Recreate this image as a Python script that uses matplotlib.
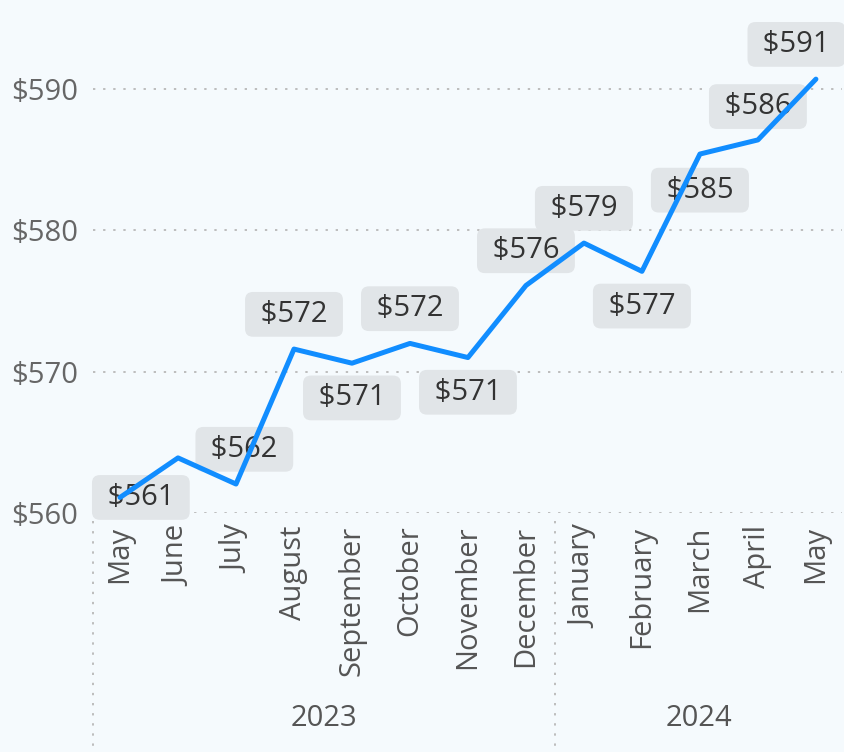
import matplotlib
matplotlib.use('Agg')
import matplotlib.pyplot as plt
import matplotlib.transforms as mtransforms

plt.rcParams['font.family'] = ['Open Sans', 'DejaVu Sans']

# Monthly values
months = ['May', 'June', 'July', 'August', 'September', 'October', 'November',
          'December', 'January', 'February', 'March', 'April', 'May']
years = ['2023', '2024']
year_of_month = [0, 0, 0, 0, 0, 0, 0, 0, 1, 1, 1, 1, 1]
values = [561.1, 563.9, 562.05, 571.6, 570.6, 572.0, 571.0, 576.1, 579.1, 577.1, 585.4, 586.4, 590.7]
show_label = [True, False, True, True, True, True, True, True, True, True, True, True, True]
y_ticks = [560, 570, 580, 590]

# label placement (offset in points from the point)
label_offsets = [(15, 0), (0, 25), (6, 25), (0, 25), (0, -25), (0, 25), (0, -25),
                 (0, 25), (0, 25), (0, -25), (0, -26), (0, 24), (-14, 25)]

bg = '#F5FAFD'
line_color = '#118DFF'
box_color = '#E1E5E8'

fig = plt.figure(figsize=(8.44, 7.52), dpi=100, facecolor=bg)
ax = fig.add_axes([93 / 844, (752 - 513) / 752, (842 - 93) / 844, 513 / 752])
ax.set_facecolor(bg)

x = list(range(len(months)))
ax.plot(x, values, color=line_color, linewidth=3.6, solid_capstyle='round', zorder=5)

for i, v in enumerate(values):
    if not show_label[i]:
        continue
    ax.annotate(f' ${v:.0f} ', (i, v), xytext=label_offsets[i], textcoords='offset points',
                ha='center', va='center', fontsize=21, color='#333333', zorder=3,
                annotation_clip=False,
                bbox=dict(boxstyle='round,pad=0.27', fc=box_color, ec='none'))

ax.set_xlim(-0.466, 12.45)
ax.set_ylim(560, 596.3)

ax.set_yticks(y_ticks)
ax.set_yticklabels([f'${t}' for t in y_ticks])
ax.set_xticks(x)
ax.set_xticklabels(months, rotation=90, va='top', ha='center')
ax.tick_params(axis='y', length=0, pad=11, labelsize=21, labelcolor='#666666')
ax.tick_params(axis='x', length=0, pad=9, labelsize=21, labelcolor='#555555')

for s in ax.spines.values():
    s.set_visible(False)

for t in y_ticks:
    ax.axhline(t, color='#BDBDBD', linewidth=1.4, linestyle=(0, (1.2, 4)), zorder=1)

# year axis below month labels
trans = mtransforms.blended_transform_factory(ax.transData, ax.transAxes)
for sep in [-0.466, 7.5]:
    ax.plot([sep, sep], [-0.015, -0.47], transform=trans, clip_on=False,
            color='#BDBDBD', linewidth=1.4, linestyle=(0, (1.2, 4)))
bounds = [-0.466, 7.5, 12.45]
for k, yr in enumerate(years):
    cx = (bounds[k] + bounds[k + 1]) / 2
    ax.text(cx, -0.40, yr, transform=trans, ha='center', va='center',
            fontsize=21, color='#555555', clip_on=False)

fig.savefig('out.png', dpi=100, facecolor=bg)
